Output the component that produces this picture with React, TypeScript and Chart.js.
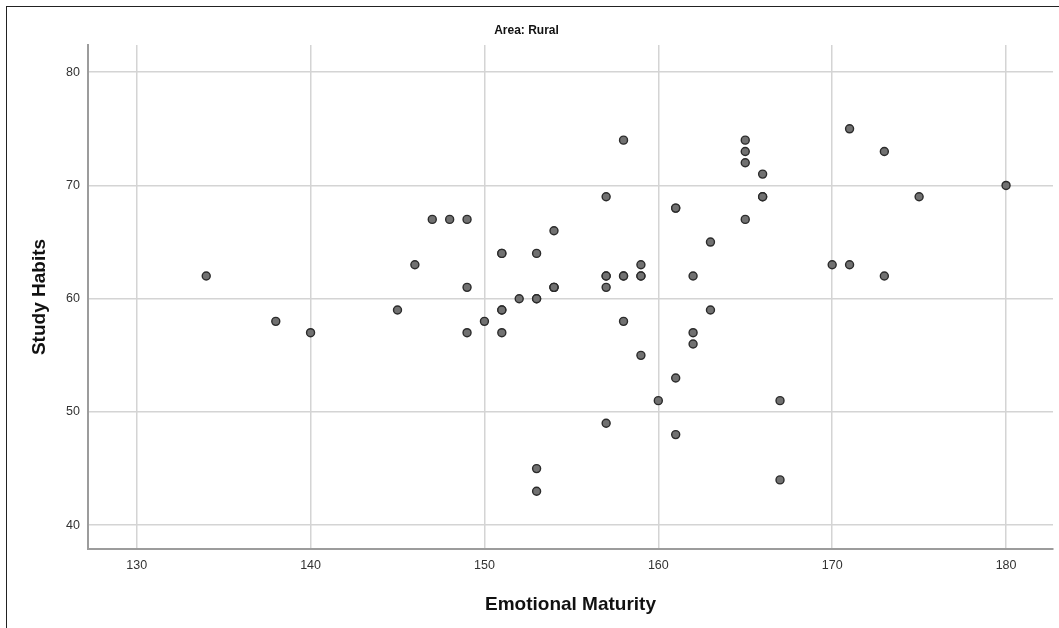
import React, { useEffect, useRef } from "react";
import { Chart, registerables } from "chart.js";

Chart.register(...registerables);

const CHART_TITLE = "Area: Rural";
const X_TITLE = "Emotional Maturity";
const Y_TITLE = "Study Habits";

// Emotional Maturity (x) and Study Habits (y) for each respondent
const emotionalMaturity: number[] = [
  134, 138, 140, 145, 146, 147, 148, 149, 149, 149,
  150, 151, 151, 151, 151, 152, 153, 153, 153, 153,
  153, 154, 154, 154, 157, 157, 157, 157, 157, 158,
  158, 158, 159, 159, 159, 160, 161, 161, 161, 161,
  162, 162, 162, 163, 163, 165, 165, 165, 165, 166,
  166, 166, 167, 167, 170, 171, 171, 173, 173, 175,
  180, 151, 154, 158, 159,
];
const studyHabits: number[] = [
  62, 58, 57, 59, 63, 67, 67, 67, 61, 57,
  58, 64, 59, 59, 57, 60, 64, 60, 45, 43,
  60, 66, 61, 61, 69, 62, 61, 49, 62, 74,
  62, 58, 63, 62, 55, 51, 68, 68, 53, 48,
  62, 57, 56, 65, 59, 74, 73, 72, 67, 71,
  69, 69, 51, 44, 63, 75, 63, 73, 62, 69,
  70, 64, 61, 62, 62,
];

const X_TICKS = [130, 140, 150, 160, 170, 180];
const Y_TICKS = [40, 50, 60, 70, 80];
const X_RANGE = [127.2, 182.7];
const Y_RANGE = [37.9, 82.4];

const FONT = "'Liberation Sans', Arial, Helvetica, sans-serif";

export default function App() {
  const canvasRef = useRef<HTMLCanvasElement | null>(null);

  useEffect(() => {
    const canvas = canvasRef.current;
    if (!canvas) return;
    const points = emotionalMaturity.map((x, i) => ({ x, y: studyHabits[i] }));
    const chart = new Chart(canvas, {
      type: "scatter",
      data: {
        datasets: [
          {
            label: "Rural",
            data: points,
            pointRadius: 4,
            pointHoverRadius: 4,
            pointBorderWidth: 1.4,
            pointBackgroundColor: "#717171",
            pointBorderColor: "#2b2b2b",
          },
        ],
      },
      options: {
        animation: false,
        responsive: false,
        devicePixelRatio: 1,
        layout: { padding: { left: 0, right: 6, top: 0, bottom: 0 } },
        plugins: {
          legend: { display: false },
          tooltip: { enabled: false },
          title: {
            display: true,
            text: CHART_TITLE,
            color: "#111",
            font: { family: FONT, size: 12, weight: "bold" },
            padding: { top: 23, bottom: 7.6 },
          },
        },
        scales: {
          x: {
            type: "linear",
            min: X_RANGE[0],
            max: X_RANGE[1],
            afterBuildTicks: (scale: any) => {
              scale.ticks = X_TICKS.map((v) => ({ value: v }));
            },
            afterFit: (scale: any) => {
              scale.height = 79;
            },
            grid: { color: "#d4d4d4", lineWidth: 1.5, drawTicks: false },
            border: { display: true, color: "#9c9c9c", width: 2 },
            ticks: {
              color: "#333",
              padding: 9,
              font: { family: FONT, size: 12.5 },
              callback: (v: any) => String(v),
            },
            title: {
              display: true,
              text: X_TITLE,
              color: "#111",
              font: { family: FONT, size: 19, weight: "bold" },
              padding: { top: 0, bottom: 12 },
            },
          },
          y: {
            type: "linear",
            min: Y_RANGE[0],
            max: Y_RANGE[1],
            afterBuildTicks: (scale: any) => {
              scale.ticks = Y_TICKS.map((v) => ({ value: v }));
            },
            afterFit: (scale: any) => {
              scale.width = 88;
            },
            grid: { color: "#d4d4d4", lineWidth: 1.5, drawTicks: false },
            border: { display: true, color: "#9c9c9c", width: 2 },
            ticks: {
              color: "#333",
              padding: 8,
              font: { family: FONT, size: 12.5 },
              callback: (v: any) => String(v),
            },
            title: {
              display: true,
              text: Y_TITLE,
              color: "#111",
              font: { family: FONT, size: 19, weight: "bold" },
              padding: { top: 28, bottom: 0 },
            },
          },
        },
      },
    });
    return () => chart.destroy();
  }, []);

  return (
    <div
      style={{
        position: "fixed",
        left: 0,
        top: 0,
        width: 1059,
        height: 628,
        background: "#fff",
        overflow: "hidden",
      }}
    >
      <canvas
        ref={canvasRef}
        width={1059}
        height={628}
        style={{ display: "block", width: 1059, height: 628 }}
      />
      <div
        style={{
          position: "absolute",
          left: 6,
          top: 6,
          right: 0,
          bottom: 0,
          borderLeft: "1px solid #222",
          borderTop: "1px solid #222",
          pointerEvents: "none",
        }}
      />
    </div>
  );
}
